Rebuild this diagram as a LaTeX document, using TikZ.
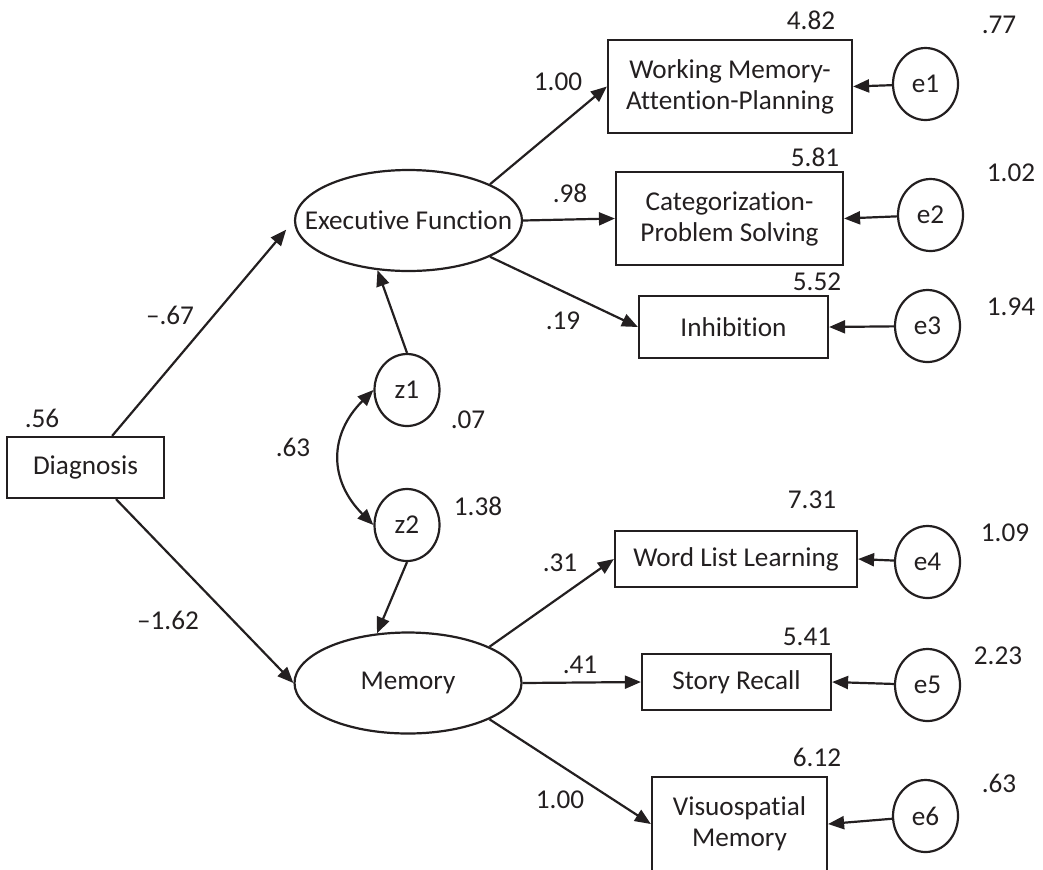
\documentclass[tikz,border=0pt]{standalone}
\usepackage{fontspec}
\setmainfont{Carlito}[Ligatures=NoCommon]
\usetikzlibrary{shapes.geometric,arrows.meta}
\definecolor{ink}{HTML}{231F20}
\begin{document}
\begin{tikzpicture}[x=0.5pt,y=-0.5pt,line width=1.1pt,ink,
  every node/.style={font=\fontsize{13.6}{15.5}\selectfont,text=ink},
  obs/.style={draw,rectangle,align=center,inner sep=0pt},
  lat/.style={draw,ellipse,inner sep=0pt,minimum width=113.5pt,minimum height=50.5pt},
  err/.style={draw,ellipse,inner sep=0pt,minimum width=32.5pt,minimum height=36pt},
  num/.style={inner sep=0pt},
  eff/.style={-{Triangle[length=8pt,width=6.5pt]}},
  cov/.style={{Triangle[length=8pt,width=6.5pt]}-{Triangle[length=8pt,width=6.5pt]}}]
\useasboundingbox (0,0) rectangle (1043,869);
\node[obs,minimum width=78.5pt,minimum height=30.5pt] (diag) at (85.5,467.5){Diagnosis};
\node[lat,label=center:Executive Function] (ef) at (408.5,220.5){};
\node[lat,label=center:Memory] (mem) at (408,683){};
\node[err] (z1) at (407,390){z1};
\node[err] (z2) at (407,525){z2};
\node[obs,minimum width=122pt,minimum height=46.5pt] (wmap) at (730,86.5){Working Memory-\\Attention-Planning};
\node[obs,minimum width=113.5pt,minimum height=46.5pt] (cps) at (729.5,218.5){Categorization-\\Problem Solving};
\node[obs,minimum width=94.5pt,minimum height=31pt] (inh) at (733.5,327){Inhibition};
\node[obs,minimum width=121pt,minimum height=28pt] (wll) at (736,559){Word List Learning};
\node[obs,minimum width=94.5pt,minimum height=28pt] (sr) at (736.5,682){Story Recall};
\node[obs,minimum width=87.5pt,minimum height=47pt] (vm) at (739.5,824){Visuospatial\\Memory};
\node[err] (e1) at (925.5,84){e1};
\node[err] (e2) at (930.5,215){e2};
\node[err] (e3) at (927.5,326){e3};
\node[err] (e4) at (927.5,562){e4};
\node[err] (e5) at (927.5,685){e5};
\node[err] (e6) at (925.5,816){e6};
\draw[eff,shorten >=6pt] (diag) -- (ef.west);
\draw[eff] (diag) -- (mem.west);
\draw[eff] (z1.north) -- (ef.238);
\draw[eff] (z2.south) -- (mem.122);
\draw[cov] (z1.west) to[out=225,in=135,looseness=1.2] (z2.west);
\draw[eff] (ef.24) -- (wmap.west);
\draw[eff] (ef.east) -- (cps.west);
\draw[eff] (ef.-24) -- (inh.west);
\draw[eff] (mem.24) -- (wll.west);
\draw[eff] (mem.east) -- (sr.west);
\draw[eff] (mem.-24) -- (vm.west);
\draw[eff] (e1) -- (wmap.east);
\draw[eff] (e2) -- (cps.east);
\draw[eff] (e3) -- (inh.east);
\draw[eff] (e4) -- (wll.east);
\draw[eff] (e5) -- (sr.east);
\draw[eff] (e6) -- (vm.east);
\node[num] (vdiag) at (42,418){.56};
\node[num] (bef) at (170,315){–.67};
\node[num] (bmem) at (168,620){–1.62};
\node[num] (cz) at (293,447){.63};
\node[num] (vz1) at (468,420){.07};
\node[num] (vz2) at (478,506){1.38};
\node[num] (lwmap) at (558,82){1.00};
\node[num] (lcps) at (570,193){.98};
\node[num] (linh) at (563,321){.19};
\node[num] (lwll) at (560,563){.31};
\node[num] (lsr) at (580,665){.41};
\node[num] (lvm) at (560,800){1.00};
\node[num] (iwmap) at (811,20){4.82};
\node[num] (icps) at (815,157){5.81};
\node[num] (iinh) at (817,282){5.52};
\node[num] (iwll) at (812,500){7.31};
\node[num] (isr) at (807,637){5.41};
\node[num] (ivm) at (817,757){6.12};
\node[num] (ve1) at (999,25){.77};
\node[num] (ve2) at (1011,173){1.02};
\node[num] (ve3) at (1011,307){1.94};
\node[num] (ve4) at (1005,533){1.09};
\node[num] (ve5) at (998,656){2.23};
\node[num] (ve6) at (999,783){.63};
\end{tikzpicture}
\end{document}
